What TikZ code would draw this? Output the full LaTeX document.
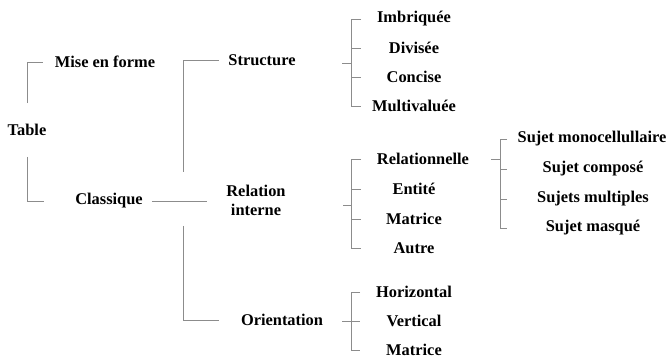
\documentclass[tikz,border=0pt]{standalone}
\usepackage{fontspec}
\setmainfont{Liberation Serif}
\usepackage{xcolor}
\usepackage{tikz}
\usetikzlibrary{calc}
\definecolor{brgray}{HTML}{8C8C8C}
\tikzset{
  br/.style={draw=brgray, line width=0.8pt},
  lbl/.style={font=\fontsize{16.4}{19}\selectfont\bfseries, inner sep=0pt, align=center}
}
\begin{document}
\begin{tikzpicture}[x=1pt,y=-1pt]
\useasboundingbox (0,0) rectangle (670,358);
% first levels
\node[lbl] (tab) at (27,130) {Table};
\node[lbl] (mef) at (105,62) {Mise en forme};
\node[lbl] (cla) at (109,201) {Classique};
\node[lbl] (str) at (262,60) {Structure};
\node[lbl] (rel) at (256,200) {Relation\\interne};
\node[lbl] (ori) at (282,320) {Orientation};

% structure
\node[lbl] (imb) at (414,19) {Imbriquée};
\node[lbl] (div) at (414,48) {Divisée};
\node[lbl] (con) at (414,77) {Concise};
\node[lbl] (mul) at (414,106) {Multivaluée};

% relation interne
\node[lbl] (rnl) at (423,159) {Relationnelle};
\node[lbl] (ent) at (414,189) {Entité};
\node[lbl] (mat) at (414,219) {Matrice};
\node[lbl] (aut) at (414,248) {Autre};

% relationnelle
\node[lbl] (smo) at (592,139) {Sujet monocellullaire};
\node[lbl] (sco) at (593,169) {Sujet composé};
\node[lbl] (smu) at (593,199) {Sujets multiples};
\node[lbl] (sma) at (593,228) {Sujet masqué};

% orientation
\node[lbl] (hor) at (414,292) {Horizontal};
\node[lbl] (ver) at (414,321) {Vertical};
\node[lbl] (mtx) at (414,350) {Matrice};

% table bracket
\draw[br] ([yshift=21pt]tab.north) |- (43,0 |- mef);
\draw[br] ([yshift=-21pt]tab.south) |- (44,0 |- cla);

% classique bracket
\draw[br] (183,172) |- (219,0 |- str);
\draw[br] ([xshift=9pt]cla.east) -- ++(55,0);
\draw[br] (183,226) |- (219,0 |- ori);

% structure bracket
\draw[br] (361,0 |- imb) -| (351,0 |- mul) -- (361,0 |- mul);
\foreach \n in {div,con} \draw[br] (351,0 |- \n) -- (361,0 |- \n);
\draw[br] (342,63) -- (351,63);

% relation bracket
\draw[br] (361,0 |- rnl) -| (351,0 |- aut) -- (361,0 |- aut);
\foreach \n in {ent,mat} \draw[br] (351,0 |- \n) -- (361,0 |- \n);
\draw[br] (343,205) -- (351,205);

% relationnelle bracket
\draw[br] (507,0 |- smo) -| (500,0 |- sma) -- (507,0 |- sma);
\foreach \n in {sco,smu} \draw[br] (500,0 |- \n) -- (507,0 |- \n);
\draw[br] (491,0 |- rnl) -- (500,0 |- rnl);

% orientation bracket
\draw[br] (360,0 |- hor) -| (351,0 |- mtx) -- (360,0 |- mtx);
\draw[br] (342,0 |- ver) -- (360,0 |- ver);
\end{tikzpicture}
\end{document}
